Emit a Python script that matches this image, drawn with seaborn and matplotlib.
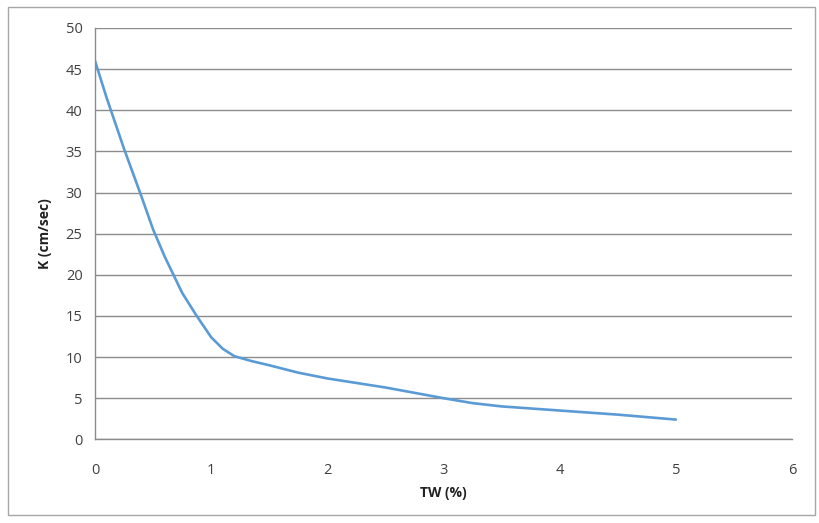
import matplotlib
matplotlib.use("Agg")
import matplotlib.pyplot as plt
import seaborn as sns
import pandas as pd
from matplotlib.patches import Rectangle

# values
tw_pct = [0, 0.1, 0.25, 0.4, 0.5, 0.6, 0.75, 0.875, 1.0, 1.1, 1.2, 1.35, 1.5, 1.75, 2.0, 2.5, 3.0, 3.25, 3.5, 4.0, 4.5, 5.0]
k_cm_sec = [46, 41.5, 35.3, 29.5, 25.5, 22.2, 17.8, 15.0, 12.4, 11.0, 10.1, 9.5, 9.0, 8.1, 7.4, 6.3, 5.0, 4.4, 4.0, 3.5, 3.0, 2.4]
x_ticks = [0, 1, 2, 3, 4, 5, 6]
y_ticks = [0, 5, 10, 15, 20, 25, 30, 35, 40, 45, 50]

df = pd.DataFrame({"TW (%)": tw_pct, "K (cm/sec)": k_cm_sec})

sns.set_style("white")
plt.rcParams["font.family"] = ["Open Sans", "DejaVu Sans"]

fig = plt.figure(figsize=(8.2, 5.23), dpi=100)
ax = fig.add_axes([0.1159, 0.160, 0.85, 0.7865])

# outer chart border
fig.patches.append(Rectangle((0.010, 0.015), 0.984, 0.972, transform=fig.transFigure,
                             fill=False, edgecolor="#a6a6a6", linewidth=1.0))

sns.lineplot(data=df, x="TW (%)", y="K (cm/sec)", ax=ax, color="#5b9bd5", linewidth=1.9)

ax.set_xlim(0, 6)
ax.set_ylim(0, 50)
ax.set_xticks(x_ticks)
ax.set_yticks(y_ticks)
ax.yaxis.grid(True, color="#8c8c8c", linewidth=1.0)
ax.xaxis.grid(False)
ax.set_axisbelow(True)

for side in ["top", "right"]:
    ax.spines[side].set_visible(False)
for side in ["left", "bottom"]:
    ax.spines[side].set_color("#8c8c8c")
    ax.spines[side].set_linewidth(1.0)

ax.tick_params(axis="both", which="major", direction="out", length=5, width=1.0,
               color="#8c8c8c", labelsize=10.5, labelcolor="#404040")
ax.tick_params(axis="x", pad=12)
ax.tick_params(axis="y", pad=4)

ax.set_xlabel("TW (%)", fontsize=10, fontweight="bold", color="#222222", labelpad=6)
ax.set_ylabel("K (cm/sec)", fontsize=10, fontweight="bold", color="#222222", labelpad=10)

fig.savefig("out.png", dpi=100)
